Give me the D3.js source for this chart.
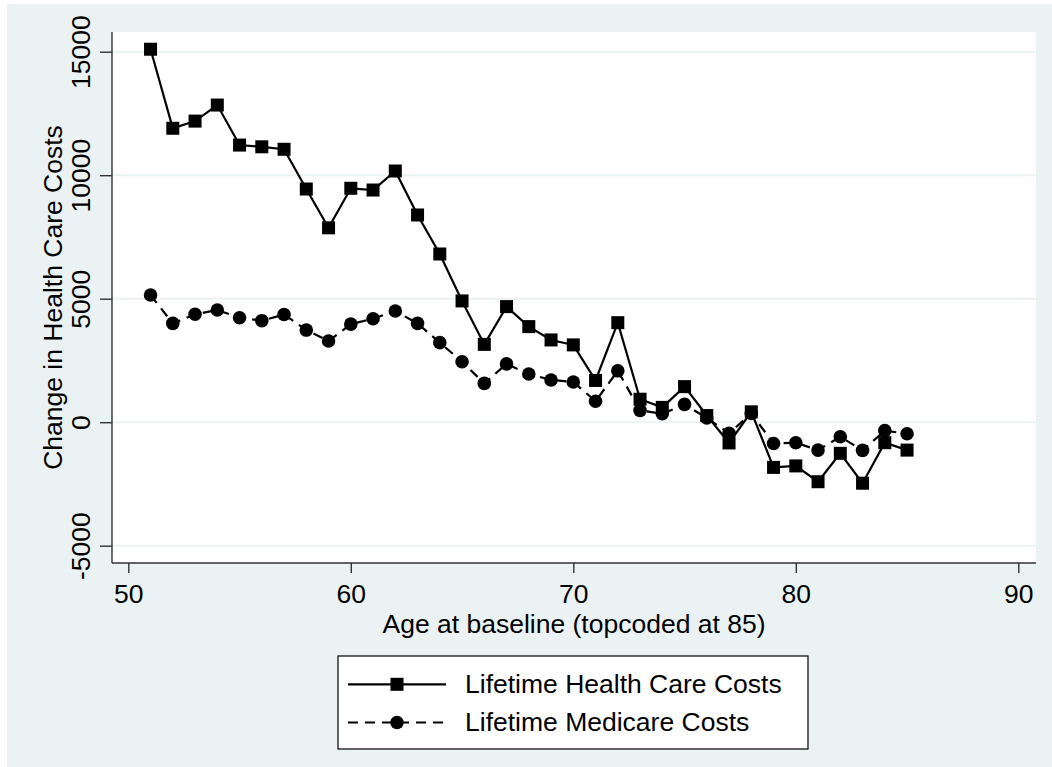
<!DOCTYPE html>
<html>
<head>
<meta charset="utf-8">
<script src="https://cdn.jsdelivr.net/npm/d3@7"></script>
<style>
html,body{margin:0;padding:0;background:#fff;}
svg{display:block;font-family:"Liberation Sans",Arial,Helvetica,sans-serif;}
</style>
</head>
<body>
<svg id="chart" width="1052" height="767"></svg>
<script>
const ages = [51,52,53,54,55,56,57,58,59,60,61,62,63,64,65,66,67,68,69,70,71,72,73,74,75,76,77,78,79,80,81,82,83,84,85];
const healthCosts = [15100,11900,12190,12840,11220,11150,11050,9440,7870,9470,9400,10170,8390,6810,4910,3150,4680,3870,3330,3130,1690,4030,930,600,1440,270,-840,420,-1830,-1770,-2410,-1260,-2470,-830,-1130];
const medicareCosts = [5150,4000,4370,4540,4230,4110,4360,3730,3290,3970,4190,4500,4000,3220,2450,1570,2360,1950,1710,1630,850,2080,480,340,720,170,-450,350,-860,-830,-1130,-590,-1140,-340,-470];
const xTicks = [50,60,70,80,90];
const yTicks = [-5000,0,5000,10000,15000];
const seriesNames = ["Lifetime Health Care Costs","Lifetime Medicare Costs"];
const xTitle = "Age at baseline (topcoded at 85)";
const yTitle = "Change in Health Care Costs";

const svg = d3.select("#chart");
const BG = "#EAF2F3";
const FS = 26.5;

// outer background
svg.append("rect").attr("x",7).attr("y",4).attr("width",1045).attr("height",763).attr("fill",BG);

const plot = {left:112, right:1036, top:32, bottom:563};
svg.append("rect").attr("x",plot.left).attr("y",plot.top)
  .attr("width",plot.right-plot.left).attr("height",plot.bottom-plot.top).attr("fill","#fff");

const x = d3.scaleLinear().domain([50,90]).range([128.3,1018.3]);
const y = d3.scaleLinear().domain([-5000,15000]).range([545.7,51.7]);

// gridlines
svg.append("g").selectAll("line").data(yTicks).join("line")
  .attr("x1",plot.left).attr("x2",plot.right)
  .attr("y1",d=>y(d)).attr("y2",d=>y(d))
  .attr("stroke",BG).attr("stroke-width",2);

// y axis
const yAxis = d3.axisLeft(y).tickValues(yTicks).tickSize(12).tickFormat(d=>String(d));
const gy = svg.append("g").attr("transform",`translate(${plot.left},0)`).call(yAxis);
gy.select(".domain").attr("d",`M0,${plot.top}V${plot.bottom}`).attr("stroke","#333").attr("stroke-width",1.4);
gy.selectAll(".tick line").attr("stroke","#333").attr("stroke-width",1.4);
gy.selectAll(".tick text")
  .attr("font-size",FS).attr("fill","#000").attr("font-family","Liberation Sans, Arial, sans-serif")
  .attr("text-anchor","middle").attr("dy",null).attr("x",null)
  .attr("transform","translate(-22,0) rotate(-90)")
  .attr("y",0);

// x axis
const xAxis = d3.axisBottom(x).tickValues(xTicks).tickSize(10).tickFormat(d=>String(d));
const gx = svg.append("g").attr("transform",`translate(0,${plot.bottom})`).call(xAxis);
gx.select(".domain").attr("d",`M${plot.left},0H${plot.right}`).attr("stroke","#333").attr("stroke-width",1.4);
gx.selectAll(".tick line").attr("stroke","#333").attr("stroke-width",1.4);
gx.selectAll(".tick text")
  .attr("font-size",FS).attr("fill","#000").attr("font-family","Liberation Sans, Arial, sans-serif")
  .attr("dy",null).attr("y",40);

// axis titles
svg.append("text").attr("x",(plot.left+plot.right)/2 + 0).attr("y",633)
  .attr("text-anchor","middle").attr("font-size",FS).attr("fill","#000").text(xTitle);
svg.append("text").attr("transform",`translate(61.5,${(plot.top+plot.bottom)/2}) rotate(-90)`)
  .attr("text-anchor","middle").attr("font-size",FS).attr("fill","#000").text(yTitle);

// lines
const line = d3.line().x(d=>x(d[0])).y(d=>y(d[1]));
const hData = ages.map((a,i)=>[a,healthCosts[i]]);
const mData = ages.map((a,i)=>[a,medicareCosts[i]]);

svg.append("path").datum(hData).attr("d",line).attr("fill","none")
  .attr("stroke","#000").attr("stroke-width",2.2).attr("stroke-linejoin","miter");
const sq = 13;
svg.append("g").selectAll("rect").data(hData).join("rect")
  .attr("x",d=>x(d[0])-sq/2).attr("y",d=>y(d[1])-sq/2)
  .attr("width",sq).attr("height",sq).attr("fill","#000");

svg.append("path").datum(mData).attr("d",line).attr("fill","none")
  .attr("stroke","#000").attr("stroke-width",2.2).attr("stroke-dasharray","10,7");
svg.append("g").selectAll("circle").data(mData).join("circle")
  .attr("cx",d=>x(d[0])).attr("cy",d=>y(d[1])).attr("r",6.8).attr("fill","#000");

// legend
const lg = svg.append("g");
lg.append("rect").attr("x",338).attr("y",656).attr("width",470).attr("height",93)
  .attr("fill","#fff").attr("stroke","#000").attr("stroke-width",1.2);
const rows = [684.3, 722.5];
// row 1
lg.append("line").attr("x1",348).attr("x2",446).attr("y1",rows[0]).attr("y2",rows[0])
  .attr("stroke","#000").attr("stroke-width",2.2);
lg.append("rect").attr("x",397-sq/2).attr("y",rows[0]-sq/2).attr("width",sq).attr("height",sq).attr("fill","#000");
lg.append("text").attr("x",465).attr("y",693).attr("font-size",FS).attr("fill","#000").text(seriesNames[0]);
// row 2
lg.append("line").attr("x1",348).attr("x2",446).attr("y1",rows[1]).attr("y2",rows[1])
  .attr("stroke","#000").attr("stroke-width",2.2).attr("stroke-dasharray","10,7");
lg.append("circle").attr("cx",397).attr("cy",rows[1]).attr("r",6.8).attr("fill","#000");
lg.append("text").attr("x",465).attr("y",731).attr("font-size",FS).attr("fill","#000").text(seriesNames[1]);
</script>
</body>
</html>
